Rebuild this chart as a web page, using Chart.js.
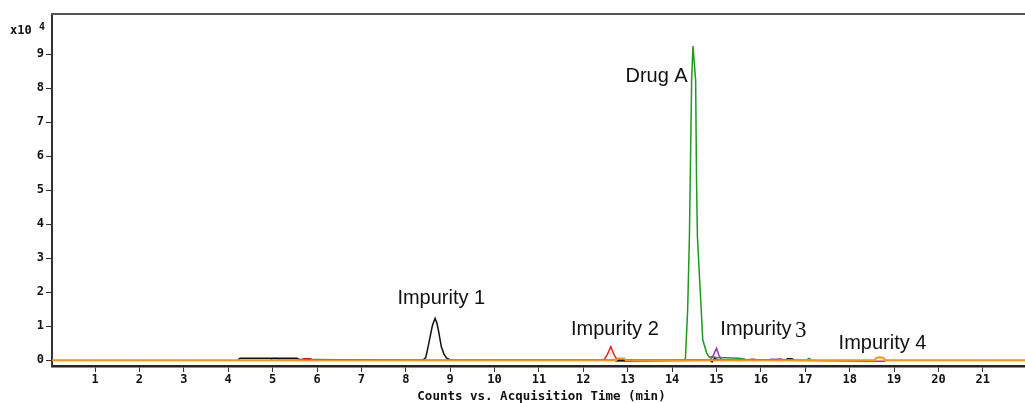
<!DOCTYPE html>
<html><head><meta charset="utf-8">
<script src="https://cdn.jsdelivr.net/npm/chart.js@4.4.1/dist/chart.umd.min.js"></script>
<style>html,body{margin:0;padding:0;background:#fff;}#wrap{width:1025px;height:403px;position:relative;}</style>
</head><body><div id="wrap"><canvas id="c"></canvas></div>
<script>
// ---- data (time in min, counts in x10^4) ----
const xTickValues = [1,2,3,4,5,6,7,8,9,10,11,12,13,14,15,16,17,18,19,20,21];
const yTickValues = [0,1,2,3,4,5,6,7,8,9];

const orangeTime   = [0.03, 12.74, 12.78, 12.92, 12.96, 18.56, 18.6, 18.68, 18.76, 18.8, 21.95];
const orangeCounts = [0,    0,     0.05,  0.05,  0,     0,     0.07, 0.09,  0.07,  0,    0];

const blackTime   = [4.22, 4.27, 5.55, 5.6, 8.38, 8.45, 8.5, 8.55, 8.6, 8.66, 8.7, 8.74, 8.8, 8.86, 8.92, 9.02, 14.85, 14.9, 14.95, 15.0, 15.05, 16.55, 16.6, 16.7, 16.75];
const blackCounts = [0.02, 0.06, 0.06, 0.02, 0,   0.08, 0.38, 0.7, 1.02, 1.23, 1.1, 0.85, 0.4, 0.18, 0.06, 0,    0,     -0.05, 0.05, 0.03, 0,     0,     0.04, 0.04, 0];

const redTime   = [4.95, 5.0, 5.1, 5.15, 5.65, 5.7, 5.85, 5.9, 12.46, 12.53, 12.62, 12.7, 12.77, 15.74, 15.77, 15.86, 15.89, 16.37, 16.4, 16.48, 16.5];
const redCounts = [0,    0.05, 0.05, 0,  0,    0.04, 0.04, 0,   0,     0.14,  0.4,   0.14, 0,     0,     0.03,  0.03,  0,     0,     0.03, 0.03,  0];

const greenTime   = [14.28, 14.3, 14.35, 14.39, 14.42, 14.44, 14.47, 14.49, 14.53, 14.55, 14.57, 14.62, 14.66, 14.69, 14.78, 14.84, 14.9, 15.0, 15.2, 15.5, 15.62, 15.7, 17.04, 17.07, 17.1, 17.13];
const greenCounts = [0,     0.05, 1.48,  3.63,  6.38,  8.24,  9.24,  8.9,   8.24,  5.3,   3.63,  2.36,  1.39,  0.6,   0.21,  0.08,  0.1,  0.08, 0.07, 0.06, 0.04,  0,    0,     0.05,  0.05, 0];

const purpleTime   = [12.72, 12.95, 14.86, 14.93, 15.0, 15.05, 15.1, 15.13, 16.2, 16.22, 16.45, 16.47, 18.55, 18.8];
const purpleCounts = [-0.03, -0.03, 0,     0.15,  0.35, 0.16,  0.03, 0,     0,    0.03,  0.03,  0,     -0.03, -0.03];

const annoText   = ['Drug A', 'Impurity 1', 'Impurity 2', 'Impurity ', 'Impurity 4'];
const annoSuffix = ['', '', '', '3', ''];
const annoTime   = [13.65, 8.80, 12.71, 16.08, 18.74];
const annoCounts = [8.35, 1.82, 0.89, 0.89, 0.49];

const xTitle = 'Counts vs. Acquisition Time (min)';
const yUnit = 'x10';
const yExp = '4';

// ---- build ----
const pts = (t, v) => t.map((x, i) => ({x, y: v[i]}));
const line = (label, t, v, color, w) => ({label, data: pts(t, v), borderColor: color, borderWidth: w,
  pointRadius: 0, tension: 0, fill: false});

const monoFam = '"DejaVu Sans Mono", "Liberation Mono", monospace';

const overlay = {
  id: 'overlay',
  afterDraw(chart) {
    const {ctx, chartArea: a, scales: {x, y}} = chart;
    ctx.save();
    // top frame line
    ctx.strokeStyle = '#555'; ctx.lineWidth = 2;
    ctx.beginPath(); ctx.moveTo(a.left - 1, a.top); ctx.lineTo(a.right, a.top); ctx.stroke();
    // annotations
    ctx.fillStyle = '#111'; ctx.textBaseline = 'middle';
    annoText.forEach((txt, i) => {
      const px = x.getPixelForValue(annoTime[i]);
      const py = y.getPixelForValue(annoCounts[i]);
      ctx.font = '20px "Liberation Sans", Arial, sans-serif';
      const w1 = ctx.measureText(txt).width;
      let w2 = 0;
      if (annoSuffix[i]) { ctx.font = '23px "Liberation Serif", serif'; w2 = ctx.measureText(annoSuffix[i]).width; }
      const left = px - (w1 + w2) / 2;
      ctx.textAlign = 'left';
      ctx.font = '20px "Liberation Sans", Arial, sans-serif';
      ctx.fillText(txt, left, py);
      if (annoSuffix[i]) { ctx.font = '23px "Liberation Serif", serif'; ctx.fillText(annoSuffix[i], left + w1 - 2, py + 1); }
    });
    // y unit label
    ctx.font = 'bold 12px ' + monoFam;
    ctx.textAlign = 'left';
    ctx.fillText(yUnit, 10, a.top + 17);
    ctx.font = 'bold 10px ' + monoFam;
    ctx.fillText(yExp, 39, a.top + 13);
    // x title
    ctx.font = 'bold 12.5px ' + monoFam;
    ctx.textAlign = 'center';
    ctx.fillText(xTitle, (a.left + a.right) / 2 + 3, a.bottom + 31);
    ctx.restore();
  }
};

const tickFont = {family: monoFam, weight: 'bold', size: 12};

new Chart(document.getElementById('c'), {
  type: 'line',
  data: {datasets: [
    line('orange', orangeTime, orangeCounts, '#ff9400', 2),
    line('black', blackTime, blackCounts, '#111111', 1.5),
    line('red', redTime, redCounts, '#ff1a1a', 1.5),
    line('purple', purpleTime, purpleCounts, '#9932cc', 1.5),
    line('green', greenTime, greenCounts, '#1f9a1f', 1.5)
  ]},
  options: {
    responsive: true, maintainAspectRatio: false, animation: false,
    layout: {padding: {top: 14, right: 0, left: 0, bottom: 0}},
    plugins: {legend: {display: false}, tooltip: {enabled: false}},
    scales: {
      x: {type: 'linear', min: 0.03, max: 21.95,
        afterBuildTicks: s => { s.ticks = xTickValues.map(v => ({value: v})); },
        afterFit: s => { s.height = 37; },
        ticks: {font: tickFont, color: '#111', padding: 1, maxRotation: 0, autoSkip: false, callback: v => String(v)},
        grid: {display: true, drawOnChartArea: false, drawTicks: true, tickLength: 6, tickColor: '#333', tickWidth: 1},
        border: {display: true, color: '#222', width: 2.5}
      },
      y: {type: 'linear', min: -0.17, max: 10.18,
        afterBuildTicks: s => { s.ticks = yTickValues.map(v => ({value: v})); },
        afterFit: s => { s.width = 52; },
        ticks: {font: tickFont, color: '#111', padding: 2, callback: v => String(v)},
        grid: {display: true, drawOnChartArea: false, drawTicks: true, tickLength: 6, tickColor: '#333', tickWidth: 1},
        border: {display: true, color: '#333', width: 2}
      }
    }
  },
  plugins: [overlay]
});
</script></body></html>
